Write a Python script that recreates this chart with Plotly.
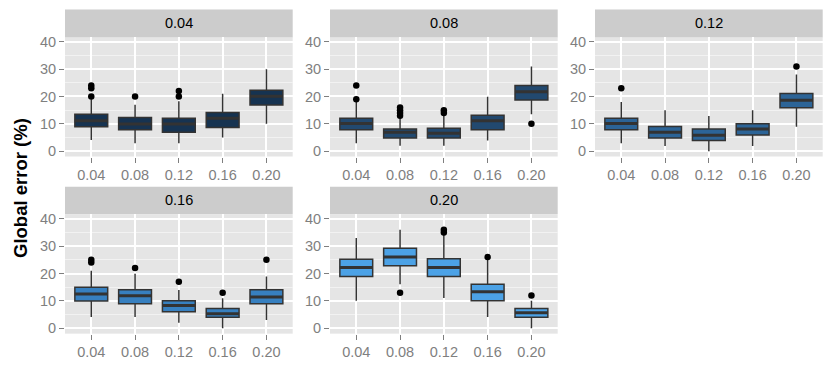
import plotly.graph_objects as go

# facet labels and category labels
facets = ["0.04", "0.08", "0.12", "0.16", "0.20"]
categories = ["0.04", "0.08", "0.12", "0.16", "0.20"]
fills = ["#163351", "#22496F", "#2C6497", "#3780C0", "#4CA2E6"]

# box statistics per facet, one value per category
q1 = [
    [8.9, 7.8, 6.9, 8.7, 16.9],
    [7.8, 4.8, 4.8, 7.8, 18.7],
    [7.8, 4.8, 3.9, 5.9, 15.9],
    [10.0, 9.0, 6.0, 4.0, 9.0],
    [18.9, 22.8, 18.9, 10.1, 4.0],
]
median = [
    [11.1, 9.9, 9.9, 12.0, 20.1],
    [10.1, 6.9, 6.6, 11.1, 21.7],
    [10.1, 6.9, 5.8, 8.1, 18.6],
    [12.5, 11.9, 8.3, 5.3, 11.4],
    [22.2, 26.0, 22.2, 13.3, 5.7],
]
q3 = [
    [13.5, 12.3, 12.0, 14.1, 22.3],
    [12.0, 8.1, 8.4, 13.1, 24.0],
    [12.0, 9.0, 8.1, 10.0, 21.1],
    [15.0, 14.1, 10.1, 7.2, 14.1],
    [25.2, 29.2, 25.4, 16.1, 7.2],
]
lower = [
    [4.1, 2.9, 2.9, 5.0, 10.0],
    [2.9, 2.0, 2.0, 3.9, 13.5],
    [2.9, 1.9, 0.0, 1.9, 8.9],
    [4.1, 4.1, 2.0, 0.0, 3.0],
    [10.1, 16.1, 11.1, 4.1, 0.0],
]
upper = [
    [19.0, 17.0, 18.3, 21.0, 30.0],
    [18.3, 12.0, 12.9, 19.9, 31.0],
    [18.0, 15.0, 12.9, 15.0, 28.0],
    [21.0, 19.9, 14.0, 11.0, 18.9],
    [33.0, 36.0, 34.6, 25.0, 10.1],
]
# outliers: (category index, value)
outliers = [
    [(1, 20), (1, 23), (1, 24), (2, 20), (3, 20), (3, 22)],
    [(1, 19), (1, 24), (2, 13), (2, 14), (2, 15), (2, 16), (3, 14), (3, 15), (5, 10)],
    [(1, 23), (5, 31)],
    [(1, 24), (1, 25), (2, 22), (3, 17), (4, 13), (5, 25)],
    [(2, 13), (3, 35), (3, 36), (4, 26), (5, 12)],
]

W, H = 830, 376
x_px = [(65, 292.7), (330, 557.7), (595, 822.7)]
y_px = [(34.7, 156.0), (214.5, 336.0)]
strip_px = [(6.7, 34.7), (186.7, 214.5)]

FONT = "Liberation Sans, Arial, sans-serif"
GREY = "#7F7F7F"
DARK = "#333333"

fig = go.Figure()
shapes = []
annotations = []
xpos = [1, 2, 3, 4, 5]
half = 0.375

for i, name in enumerate(facets):
    row, col = divmod(i, 3)
    sfx = "" if i == 0 else str(i + 1)
    xa, ya = "x" + sfx, "y" + sfx

    fig.add_trace(go.Box(
        x=xpos, q1=q1[i], median=median[i], q3=q3[i],
        lowerfence=lower[i], upperfence=upper[i],
        width=0.75, boxpoints=False, whiskerwidth=0,
        fillcolor=fills[i], line=dict(color=DARK, width=1.5),
        xaxis=xa, yaxis=ya, showlegend=False, hoverinfo="skip",
    ))

    # thicker median bars like ggplot
    mx, my = [], []
    for k, m in enumerate(median[i]):
        mx += [xpos[k] - half, xpos[k] + half, None]
        my += [m, m, None]
    fig.add_trace(go.Scatter(
        x=mx, y=my, mode="lines", line=dict(color=DARK, width=3),
        xaxis=xa, yaxis=ya, showlegend=False, hoverinfo="skip",
    ))

    fig.add_trace(go.Scatter(
        x=[xpos[c - 1] for c, v in outliers[i]],
        y=[v for c, v in outliers[i]],
        mode="markers", marker=dict(color="black", size=6.5),
        xaxis=xa, yaxis=ya, showlegend=False, hoverinfo="skip",
    ))

    x0, x1 = x_px[col]
    yt, yb = y_px[row]
    fig.update_layout({
        "xaxis" + sfx: dict(
            domain=[x0 / W, x1 / W], anchor=ya, range=[0.4, 5.6],
            tickvals=xpos, ticktext=categories, showgrid=True,
            gridcolor="white", gridwidth=1.8, zeroline=False,
            ticks="outside", ticklen=5, tickcolor=GREY, tickwidth=1,
            tickfont=dict(family=FONT, size=14.5, color=GREY),
        ),
        "yaxis" + sfx: dict(
            domain=[1 - yb / H, 1 - yt / H], anchor=xa, range=[-1.95, 41.7],
            tickvals=[0, 10, 20, 30, 40], showgrid=True,
            gridcolor="white", gridwidth=1.8, zeroline=False,
            minor=dict(dtick=5, tick0=0, showgrid=True, gridcolor="#F2F2F2", gridwidth=0.8),
            ticks="outside", ticklen=5, tickcolor=GREY, tickwidth=1,
            tickfont=dict(family=FONT, size=14.5, color=GREY),
        ),
    })

    st, sb = strip_px[row]
    shapes.append(dict(
        type="rect", xref="paper", yref="paper",
        x0=x0 / W, x1=x1 / W, y0=1 - sb / H, y1=1 - st / H,
        fillcolor="#CCCCCC", line=dict(width=0), layer="below",
    ))
    annotations.append(dict(
        x=(x0 + x1) / 2 / W, y=1 - (st + sb) / 2 / H, xref="paper", yref="paper",
        xanchor="center", yanchor="middle",
        text=name, showarrow=False, font=dict(family=FONT, size=14.5, color="black"),
    ))

annotations.append(dict(
    x=20 / W, y=0.5, xref="paper", yref="paper", text="<b>Global error (%)</b>",
    xanchor="center", yanchor="middle",
    textangle=-90, showarrow=False, font=dict(family=FONT, size=18.5, color="black"),
))

fig.update_layout(
    width=W, height=H,
    margin=dict(l=0, r=0, t=0, b=0),
    paper_bgcolor="white", plot_bgcolor="#E5E5E5",
    shapes=shapes, annotations=annotations,
)

# drop the default page margin so the figure sits at the window origin
fig.write_html("out.html", config={"displayModeBar": False},
               post_script="document.body.style.margin = '0';")
